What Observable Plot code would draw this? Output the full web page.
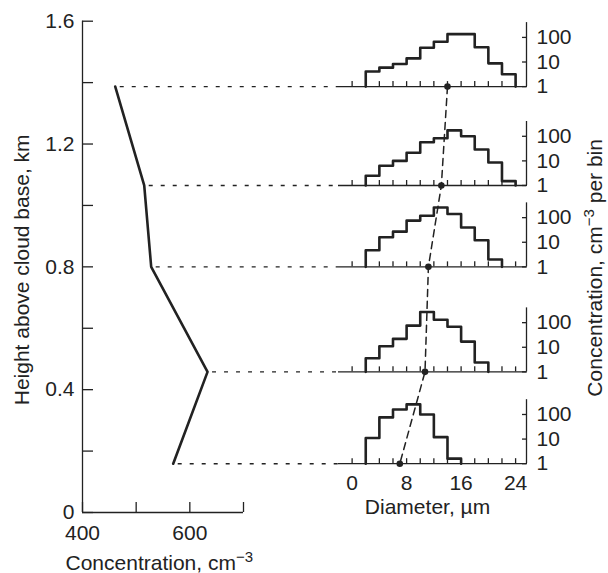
<!DOCTYPE html>
<html><head><meta charset="utf-8">
<script src="https://cdn.jsdelivr.net/npm/d3@7"></script>
<script src="https://cdn.jsdelivr.net/npm/@observablehq/plot@0.6"></script>
<style>
body{margin:0;background:#fff}
#chart{position:relative;width:608px;height:573px;overflow:hidden;background:#fff}
#chart svg{position:absolute;left:0;top:0}
</style></head><body><div id="chart"></div>
<script>
// ---- data ----
const heightKm      = [1.387, 1.065, 0.8, 0.458, 0.159];
const concentration = [461, 515, 528, 633, 569];
const meanDiameter  = [14.0, 13.1, 11.2, 10.7, 7.0];
const binStart = 2, binWidth = 2;
const hist1 = [4.1, 5.9, 8.3, 14, 38, 67, 136, 136, 40, 8.8, 3.2];
const hist2 = [2.5, 6.3, 10, 21.5, 57, 83, 174, 100, 29, 8.6, 1.5];
const hist3 = [4.7, 16, 27, 76, 120, 260, 140, 40, 12, 2];
const hist4 = [3.6, 11, 22, 76, 270, 132, 68, 17, 2.4];
const hist5 = [11, 76, 160, 257, 100, 12, 1.6];
const hists = [hist1, hist2, hist3, hist4, hist5];

const heightDomain = [0, 1.6];
const heightTicks = [0, 0.2, 0.4, 0.6, 0.8, 1.0, 1.2, 1.4, 1.6];
const heightLabelTicks = [0, 0.4, 0.8, 1.2, 1.6];
const concDomain = [400, 700];
const concTicks = [400, 500, 600, 700];
const concLabelTicks = [400, 600];
const diamExtent = [-2, 25.6];
const diamTicks = [0, 2, 4, 6, 8, 10, 12, 14, 16, 18, 20, 22, 24];
const diamLabelTicks = [0, 8, 16, 24];
const countDomain = [1, 400];
const countTicks = [1, 10, 100];

const yTitle = "Height above cloud base, km";
const xTitle = "Concentration, cm^−3";
const rightTitle = "Concentration, cm^−3 per bin";
const diamTitle = "Diameter, µm";

// ---- layout ----
const W = 608, H = 573;
const ink = "#222";
const style = {fontSize: "21px", fontFamily: "'Liberation Sans', Arial, Helvetica, sans-serif",
  color: ink, background: "transparent", overflow: "visible"};
const profile = heightKm.map((h, i) => ({h, c: concentration[i], d: meanDiameter[i]}));

// left panel geometry (pixels)
const leftX0 = 82, leftX1 = 243, leftFrameRight = 338;
// concentration value at the right edge of the left frame (where the size panels start)
const dottedEnd = concDomain[0] + (leftFrameRight - leftX0) * (concDomain[1] - concDomain[0]) / (leftX1 - leftX0);

const left = Plot.plot({
  width: W, height: H,
  marginLeft: leftX0, marginRight: W - leftFrameRight, marginTop: 20.7, marginBottom: 61,
  style,
  x: {domain: concDomain, range: [leftX0, leftX1], axis: null},
  y: {domain: heightDomain, axis: null},
  marks: [
    Plot.ruleY(profile, {y: "h", x1: "c", x2: () => dottedEnd, insetLeft: 5, stroke: ink, strokeWidth: 1.4, strokeDasharray: "4 8"}),
    Plot.ruleX([concDomain[0]], {y1: heightDomain[0], y2: heightDomain[1], stroke: ink, strokeWidth: 1.3}),
    Plot.ruleY([heightDomain[0]], {x1: concDomain[0], x2: concDomain[1], stroke: ink, strokeWidth: 1.3}),
    Plot.axisY({anchor: "left", ticks: heightTicks, tickSize: -11, fill: "none", label: null, strokeWidth: 1.3}),
    Plot.axisY({anchor: "left", ticks: heightLabelTicks, tickSize: 0, tickPadding: 8, tickFormat: d => String(d), label: null}),
    Plot.axisX({anchor: "bottom", ticks: concTicks, tickSize: -10, fill: "none", label: null, strokeWidth: 1.3}),
    Plot.axisX({anchor: "bottom", ticks: concLabelTicks, tickSize: 0, tickPadding: 13, tickFormat: d => String(d), label: null}),
    Plot.line(profile, {x: "c", y: "h", stroke: ink, strokeWidth: 2.6}),
    Plot.text([yTitle], {frameAnchor: "left", rotate: -90, lineAnchor: "top", textAnchor: "middle", dx: -68.7, dy: 3, fill: ink}),
    Plot.text([xTitle], {frameAnchor: "bottom-left", lineAnchor: "top", textAnchor: "start", dx: -17, dy: 43, fill: ink})
  ]
});

const chart = document.getElementById("chart");
chart.append(left);

const yL = left.scale("y");
hists.forEach((vals, i) => {
  const base = yL.apply(heightKm[i]);
  const pts = [{d: binStart, n: countDomain[0]}]
    .concat(vals.map((v, j) => ({d: binStart + j * binWidth, n: v})))
    .concat([{d: binStart + vals.length * binWidth, n: countDomain[0]}]);
  const isBottom = i === hists.length - 1;
  const p = Plot.plot({
    width: W, height: H,
    marginLeft: leftFrameRight, marginRight: 82, marginTop: base - 64, marginBottom: H - base,
    style,
    x: {domain: diamExtent, axis: null},
    y: {type: "log", domain: countDomain, axis: null},
    marks: [
      Plot.ruleY([countDomain[0]], {x1: diamExtent[0], x2: diamExtent[1], stroke: ink, strokeWidth: 1.3}),
      Plot.ruleX([diamExtent[1]], {y1: countDomain[0], y2: countDomain[1], stroke: ink, strokeWidth: 1.3}),
      Plot.axisX({anchor: "bottom", ticks: diamTicks, tickSize: -5, fill: "none", label: null, strokeWidth: 1.3}),
      isBottom ? Plot.axisX({anchor: "bottom", ticks: diamLabelTicks, tickSize: 0, tickPadding: 11.7, tickFormat: d => String(d), label: null}) : null,
      Plot.axisY({anchor: "right", ticks: countTicks, tickSize: -5, tickPadding: 15, tickFormat: d => String(d), label: null, strokeWidth: 1.3}),
      Plot.line(pts, {x: "d", y: "n", curve: "step-after", stroke: ink, strokeWidth: 2.6}),
      isBottom ? Plot.text([diamTitle], {frameAnchor: "bottom", lineAnchor: "top", textAnchor: "middle", dx: -5, dy: 35, fill: ink}) : null
    ]
  });
  chart.append(p);
});

const conn = Plot.plot({
  width: W, height: H,
  marginLeft: leftFrameRight, marginRight: 82, marginTop: 20.7, marginBottom: 61,
  style,
  x: {domain: diamExtent, axis: null},
  y: {domain: heightDomain, axis: null},
  marks: [
    Plot.line(profile, {x: "d", y: "h", stroke: ink, strokeWidth: 1.5, strokeDasharray: "7 5"}),
    Plot.dot(profile, {x: "d", y: "h", r: 3.3, fill: ink, stroke: null}),
    Plot.text([rightTitle], {frameAnchor: "right", rotate: -90, lineAnchor: "top", textAnchor: "middle", dx: 60.7, dy: 1, fill: ink})
  ]
});
chart.append(conn);

// superscripts
const NS = "http://www.w3.org/2000/svg";
chart.querySelectorAll("text").forEach(t => {
  const s = t.textContent;
  const k = s.indexOf("^");
  if (k < 0) return;
  const before = s.slice(0, k);
  const m = s.slice(k + 1).match(/^(\S+)(.*)$/);
  t.textContent = "";
  t.append(document.createTextNode(before));
  const a = document.createElementNS(NS, "tspan");
  a.setAttribute("dy", "-8"); a.setAttribute("font-size", "15");
  a.textContent = m[1];
  t.append(a);
  if (m[2]) {
    const b = document.createElementNS(NS, "tspan");
    b.setAttribute("dy", "8");
    b.textContent = m[2];
    t.append(b);
  }
});
</script></body></html>
